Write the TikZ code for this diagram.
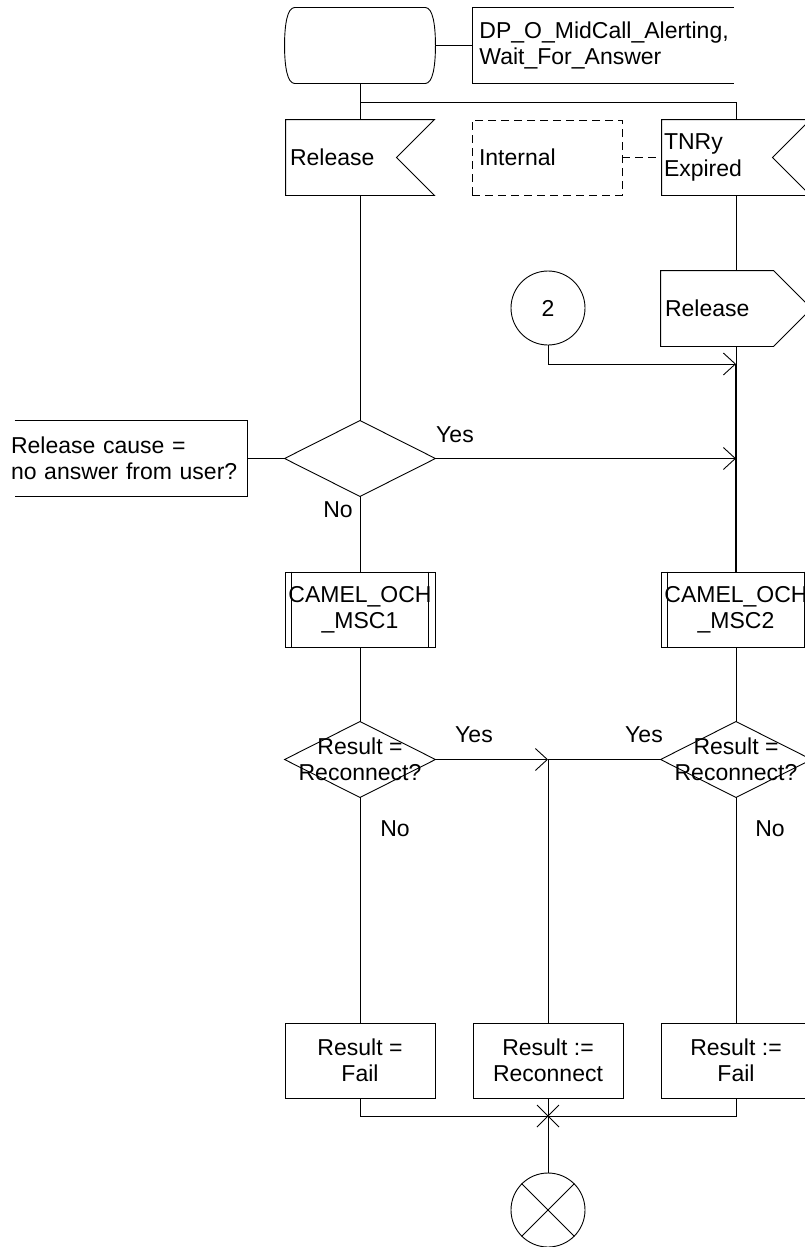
\documentclass[tikz,border=0pt]{standalone}
\usepackage{fontspec}
\setmainfont{Liberation Sans}
\usetikzlibrary{arrows.meta}
\begin{document}
\begin{tikzpicture}[x=1pt,y=-1pt, line width=0.9pt, font=\fontsize{23}{26.5}\selectfont,
  box/.style={inner sep=0pt, minimum width=150pt, minimum height=75pt, align=center},
  lbl/.style={inner sep=0pt},
  arr/.style={-{Straight Barb[length=12pt,width=22pt]}},
  dsh/.style={dash pattern=on 8pt off 5pt}]
\useasboundingbox (0,0) rectangle (805,1247);
\fill[white] (0,0) rectangle (805,1247);
\clip (0,0) rectangle (805,1247);
% state
\node[box] (st) at (360,45.5) {};
\draw ([xshift=10pt]st.north west) -- ([xshift=-10pt]st.north east)
  .. controls ([xshift=-3pt]st.north east) and ([yshift=22pt]st.east) .. (st.east)
  .. controls ([yshift=-22pt]st.east) and ([xshift=-3pt]st.south east) .. ([xshift=-10pt]st.south east)
  -- ([xshift=10pt]st.south west)
  .. controls ([xshift=3pt]st.south west) and ([yshift=-22pt]st.west) .. (st.west)
  .. controls ([yshift=22pt]st.west) and ([xshift=3pt]st.north west) .. ([xshift=10pt]st.north west) -- cycle;
\node[inner xsep=7pt, inner ysep=0pt, text width=247pt, minimum height=75pt, align=left, anchor=west] (cm1) at (472,45.5) {DP\_O\_MidCall\_Alerting,\\Wait\_For\_Answer};
\draw (cm1.north east) -- (cm1.north west) -- (cm1.south west) -- (cm1.south east);
\draw (st.east) -- (cm1.west);
% inputs
\node[box, minimum width=148pt, text width=140pt, inner xsep=4pt, align=left] (rin) at (360,157.5) {Release};
\draw (rin.north west) -- (rin.north east) -- ([xshift=-38pt]rin.east) -- (rin.south east) -- (rin.south west) -- cycle;
\node[box, draw, dsh, text width=136pt, inner xsep=7pt, align=left] (int) at (547,157.5) {Internal};
\node[box, minimum width=148pt, text width=144pt, inner xsep=2pt, align=left] (tin) at (736,157.5) {TNRy\\Expired};
\draw (tin.north west) -- (tin.north east) -- ([xshift=-38pt]tin.east) -- (tin.south east) -- (tin.south west) -- cycle;
\draw[dsh] (int.east) -- (tin.west);
\coordinate (br) at (360,102);
\draw (st.south) -- (rin.north);
\draw (br) -| (tin.north);
% output
\node[box, text width=142pt, inner xsep=4pt, align=left] (rout) at (736,308.5) {Release};
\draw (rout.north west) -- ([xshift=-38pt]rout.north east) -- (rout.east) -- ([xshift=-38pt]rout.south east) -- (rout.south west) -- cycle;
\draw (tin.south) -- (rout.north);
% connector 2
\node[draw, circle, minimum size=74pt, inner sep=0pt] (c2) at (548,308) {2};
\coordinate (j1) at (736,364);
\draw[arr] (c2.south) |- (j1);
% decision 1
\node[inner sep=0pt, text width=236pt, minimum height=75pt, align=left] (cm2) at (129,458.5) {Release cause =\\no answer from user?};
\draw ([xshift=4pt]cm2.north west) -- (cm2.north east) -- (cm2.south east) -- ([xshift=4pt]cm2.south west);
\node[box] (d1) at (360,458.5) {};
\draw (d1.north) -- (d1.east) -- (d1.south) -- (d1.west) -- cycle;
\draw (cm2.east) -- (d1.west);
\draw (rin.south) -- (d1.north);
\coordinate (j2) at (736,458.5);
\draw[arr] (d1.east) -- (j2);
\node[lbl] (y1) at (455,435) {Yes};
\node[lbl] (n1) at (338,510) {No};
% procedures
\node[box, draw] (cam1) at (360,609.5) {CAMEL\_OCH\\\_MSC1};
\draw ([xshift=7pt]cam1.north west) -- ([xshift=7pt]cam1.south west);
\draw ([xshift=-7pt]cam1.north east) -- ([xshift=-7pt]cam1.south east);
\node[box, draw] (cam2) at (736,609.5) {CAMEL\_OCH\\\_MSC2};
\draw ([xshift=7pt]cam2.north west) -- ([xshift=7pt]cam2.south west);
\draw ([xshift=-7pt]cam2.north east) -- ([xshift=-7pt]cam2.south east);
\draw (d1.south) -- (cam1.north);
\draw (rout.south) -- (j1);
\draw[line width=1.5pt] (j1) -- (cam2.north);
% decisions 2
\node[box] (d3) at (360,759.5) {Result =\\Reconnect?};
\draw (d3.north) -- (d3.east) -- (d3.south) -- (d3.west) -- cycle;
\node[box] (d4) at (736,759.5) {Result =\\Reconnect?};
\draw (d4.north) -- (d4.east) -- (d4.south) -- (d4.west) -- cycle;
\draw (cam1.south) -- (d3.north);
\draw (cam2.south) -- (d4.north);
\coordinate (j3) at (548,759.5);
\draw[arr] (d3.east) -- (j3);
\draw (d4.west) -- (j3);
\node[lbl] (y2) at (474,735) {Yes};
\node[lbl] (y3) at (644,735) {Yes};
\node[lbl] (n2) at (395,829) {No};
\node[lbl] (n3) at (770,829) {No};
% tasks
\node[box, draw] (f1) at (360,1060.5) {Result =\\Fail};
\node[box, draw] (rr) at (548,1060.5) {Result :=\\Reconnect};
\node[box, draw] (f2) at (736,1060.5) {Result :=\\Fail};
\draw (j3) -- (rr.north);
\draw (d3.south) -- (f1.north);
\draw (d4.south) -- (f2.north);
\coordinate (m) at (548,1116);
\draw (f1.south) |- (m);
\draw (f2.south) |- (m);
\draw (rr.south) -- (m);
\draw ([shift={(-11,-11)}]m) -- ([shift={(11,11)}]m);
\draw ([shift={(-11,11)}]m) -- ([shift={(11,-11)}]m);
% stop
\node[draw, circle, minimum size=74pt, inner sep=0pt] (en) at (548,1210) {};
\draw (m) -- (en.north);
\draw (en.north west) -- (en.south east);
\draw (en.north east) -- (en.south west);
\end{tikzpicture}
\end{document}
